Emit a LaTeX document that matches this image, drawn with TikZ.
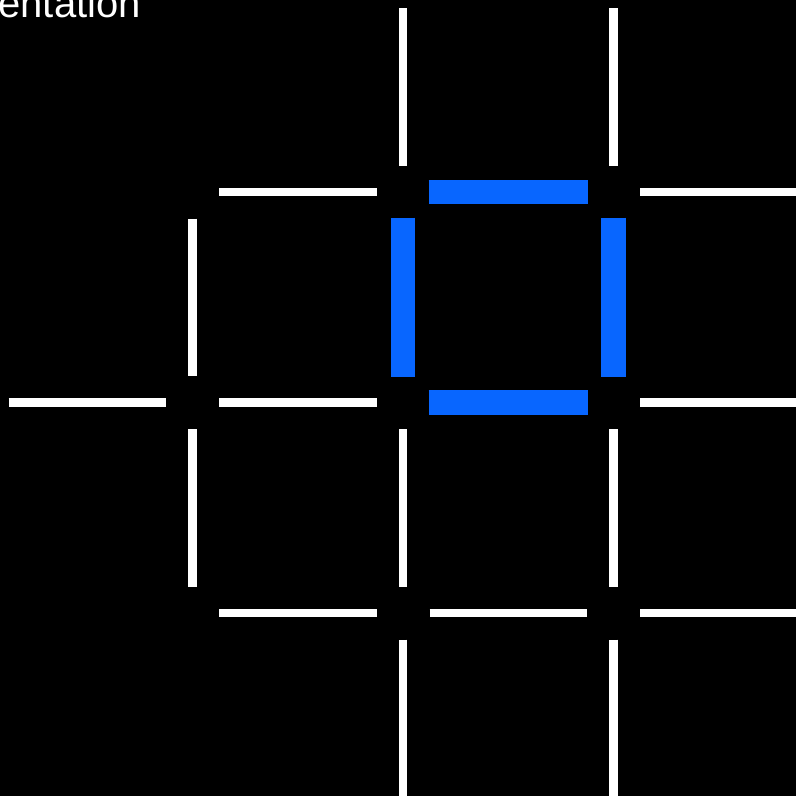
\documentclass[tikz,border=0pt]{standalone}
\usepackage{fontspec}
\setmainfont{Liberation Sans}
\definecolor{sqblue}{RGB}{8,102,255}
\begin{document}
\begin{tikzpicture}[x=1pt,y=-1pt,
  wseg/.style={draw=white,line width=8.5pt,shorten <=26.5pt,shorten >=26.5pt},
  bseg/.style={draw=sqblue,line width=24.5pt,shorten <=25.5pt,shorten >=26pt}]
\useasboundingbox (0,0) rectangle (796,796);
\fill[black] (0,0) rectangle (796,796);
\clip (0,0) rectangle (796,796);
% grid points
\foreach \i/\x in {0/-18,1/192.5,2/403,3/613.5,4/824}{
  \foreach \j/\y in {0/-18.5,1/192,2/402.5,3/613,4/823.5}{
    \coordinate (p\i\j) at (\x,\y);
  }
}
\node[anchor=base east,font=\fontsize{40}{40}\selectfont,text=white,inner sep=0pt] (title) at (141,17) {entation};
% horizontal white segments
\draw[wseg] (p11) -- (p21);
\draw[wseg] (p31) -- (p41);
\draw[wseg] (p02) -- (p12);
\draw[wseg] (p12) -- (p22);
\draw[wseg] (p32) -- (p42);
\draw[wseg] (p13) -- (p23);
\draw[wseg] (p23) -- (p33);
\draw[wseg] (p33) -- (p43);
% vertical white segments
\draw[wseg] (p11) -- (p12);
\draw[wseg] (p12) -- (p13);
\draw[wseg] (p20) -- (p21);
\draw[wseg] (p22) -- (p23);
\draw[wseg] (p23) -- (p24);
\draw[wseg] (p30) -- (p31);
\draw[wseg] (p32) -- (p33);
\draw[wseg] (p33) -- (p34);
% blue square
\draw[bseg] (p21) -- (p31);
\draw[bseg] (p22) -- (p32);
\draw[bseg] (p21) -- (p22);
\draw[bseg] (p31) -- (p32);
\end{tikzpicture}
\end{document}
